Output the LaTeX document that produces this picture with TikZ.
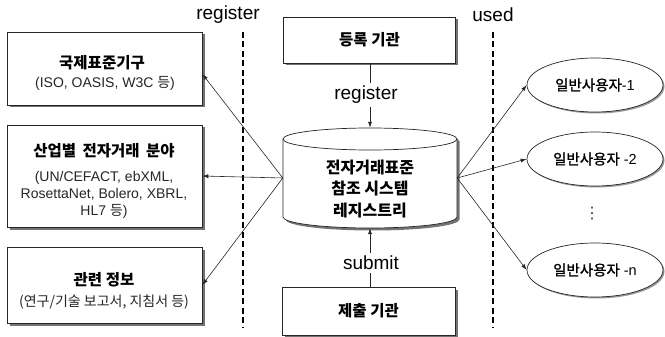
\documentclass[tikz,border=0pt]{standalone}
\usepackage{fontspec}
\setmainfont{Liberation Sans}
\newfontfamily\kr{Noto Sans CJK KR}
\newfontfamily\krm[FakeBold=1.2]{Noto Sans CJK KR}
\newfontfamily\djv{DejaVu Sans}
\usetikzlibrary{shadows,arrows.meta,calc,shapes.geometric}
\tikzset{
  box/.style={draw=black!85, line width=0.7pt, fill=white, inner sep=0pt,
    drop shadow={shadow xshift=2.5pt, shadow yshift=-2.5pt, opacity=1, fill=black!55}},
  userell/.style={ellipse, draw=black!85, line width=0.7pt, fill=white, inner sep=0pt,
    minimum width=136pt, minimum height=54pt,
    font=\fontsize{14.5}{17}\selectfont,
    drop shadow={shadow xshift=1.5pt, shadow yshift=-1.5pt, opacity=1, fill=black!40}},
  ttl/.style={font=\kr\bfseries\fontsize{15.5}{18}\selectfont, inner sep=0pt},
  subt/.style={font=\fontsize{14}{17}\selectfont, text=black!85, align=center, inner sep=0pt},
  lbl/.style={font=\fontsize{19}{22}\selectfont, inner sep=2.5pt},
  arr/.style={-{Latex[length=6pt,width=4pt]}, line width=0.6pt, draw=black!85},
  plain/.style={line width=0.6pt, draw=black!85},
  sepline/.style={line width=1.2pt, dash pattern=on 6pt off 3.5pt},
}
\begin{document}
\begin{tikzpicture}[x=1pt,y=-1pt]
\useasboundingbox (0,0) rectangle (665,337);

% left boxes
\node[box, minimum width=195pt, minimum height=73pt] (b1) at (104.5,68.5) {};
\node[ttl] (b1t) at (102,63) {국제표준기구};
\node[subt] (b1s) at (105,83) {(ISO, OASIS, W3C {\kr 등})};

\node[box, minimum width=195pt, minimum height=102pt] (b2) at (104.5,176) {};
\node[ttl] (b2t) at (104,151) {산업별\hspace{3pt} 전자거래\hspace{3pt} 분야};
\node[subt] (b2s) at (104,195) {(UN/CEFACT, ebXML,\\RosettaNet, Bolero, XBRL,\\HL7 {\kr 등})};

\node[box, minimum width=195pt, minimum height=76pt] (b3) at (104.5,285) {};
\node[ttl] (b3t) at (104,280) {관련 정보};
\node[subt] (b3s) at (104,302) {{\kr (연구/기술 보고서, 지침서 등)}};

% center column
\node[box, minimum width=172pt, minimum height=46pt, font=\kr\bfseries\fontsize{15.5}{18}\selectfont] (tb) at (369.5,40) {등록 기관};
\node[box, minimum width=173pt, minimum height=48pt, font=\kr\bfseries\fontsize{15.5}{18}\selectfont] (bb) at (368.5,311) {제출 기관};

% cylinder
\node[minimum width=174pt, minimum height=100pt, inner sep=0pt] (cyl) at (370,178) {};
\fill[black!55, shift={(2.5,2.5)}] (283,139) -- (283,217)
   arc[start angle=180, end angle=360, x radius=87pt, y radius=11pt]
   -- (457,139) arc[start angle=0, end angle=180, x radius=87pt, y radius=11pt] -- cycle;
\filldraw[fill=white, draw=black!85, line width=0.7pt] (283,139) -- (283,217)
   arc[start angle=180, end angle=360, x radius=87pt, y radius=11pt]
   -- (457,139) arc[start angle=0, end angle=180, x radius=87pt, y radius=11pt] -- cycle;
\draw[black!85, line width=0.7pt] (283,139) arc[start angle=180, end angle=360, x radius=87pt, y radius=11pt];
\node[font=\kr\bfseries\fontsize{16}{21.5}\selectfont, align=center, inner sep=0pt] (cylt) at (370,189)
  {전자거래표준\\참조 시스템\\레지스트리};

% labels
\node[lbl] (reg2) at (366,95) {register};
\node[lbl] (subm) at (371,263) {submit};
\node[lbl, inner sep=0pt] (reg1) at (228,15) {register};
\node[lbl, inner sep=0pt] (used) at (493,15) {used};

\draw[plain] (tb.south -| cyl.north) -- (reg2.north -| cyl.north);
\draw[arr] (reg2.south -| cyl.north) -- (cyl.north);
\draw[plain] (bb.north -| cyl.north) -- (subm.south -| cyl.north);
\draw[arr] (subm.north -| cyl.north) -- (cyl.south);

% dashed separators
\coordinate (d1t) at (243,32);
\coordinate (d1b) at (243,328);
\coordinate (d2t) at (493,32);
\coordinate (d2b) at (493,328);
\draw[sepline] (d1t) -- (d1b);
\draw[sepline] (d2t) -- (d2b);

% users
\node[userell] (u1) at (595,85) {{\krm 일반사용자}-1};
\node[userell] (u2) at (595,159) {{\krm 일반사용자} -2};
\node[userell] (un) at (595,270) {{\krm 일반사용자} -n};
\node[inner sep=0pt, font=\djv\fontsize{16}{16}\selectfont, text=black!75] (dots) at (592,214) {⋮};

% arrows
\draw[arr] (cyl.west) -- ([yshift=-5.5pt]b1.east);
\draw[arr] (cyl.west) -- (b2.east);
\draw[arr] (cyl.west) -- (b3.east);
\draw[arr] (cyl.east) -- (u1.west);
\draw[arr] (cyl.east) -- (u2.west);
\draw[arr] (cyl.east) -- (un.west);
\end{tikzpicture}
\end{document}
